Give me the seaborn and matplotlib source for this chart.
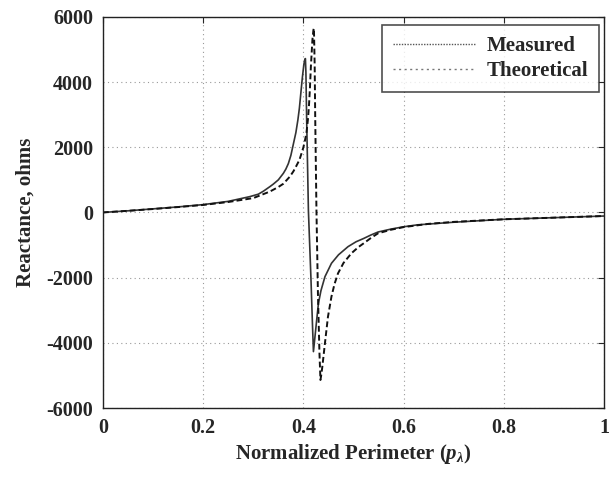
import numpy as np
import pandas as pd
import matplotlib
matplotlib.use("Agg")
import matplotlib.pyplot as plt
from matplotlib.lines import Line2D
import seaborn as sns

# ---- data ----
measured_x = [0.0, 0.05, 0.10, 0.15, 0.20, 0.25, 0.293, 0.31, 0.32, 0.333, 0.34, 0.35,
              0.36, 0.365, 0.37, 0.375, 0.38, 0.385, 0.389, 0.392, 0.3955, 0.398,
              0.401, 0.403, 0.404, 0.405, 0.4065, 0.410, 0.415, 0.418, 0.420, 0.4225,
              0.4265, 0.430, 0.435, 0.443, 0.450, 0.456, 0.470, 0.489, 0.505, 0.520,
              0.535, 0.549, 0.575, 0.600, 0.628, 0.700, 0.800, 0.900, 1.000]
measured_y = [0, 50, 110, 170, 240, 340, 485, 560, 650, 790, 870, 1000,
              1200, 1330, 1500, 1750, 2100, 2450, 2840, 3200, 3760, 4150,
              4550, 4700, 4720, 4300, 2840, 50, -2000, -3400, -4270, -3900,
              -3300, -2790, -2400, -1970, -1750, -1560, -1300, -1050, -900, -800,
              -690, -600, -510, -440, -380, -300, -210, -160, -110]

theory_x = [0.0, 0.05, 0.10, 0.15, 0.20, 0.25, 0.30, 0.333, 0.35, 0.36, 0.373, 0.38,
            0.385, 0.392, 0.396, 0.400, 0.403, 0.406, 0.409, 0.411, 0.413, 0.415,
            0.418, 0.420, 0.421, 0.4225, 0.4235, 0.426, 0.429, 0.432, 0.434, 0.436,
            0.438, 0.443, 0.449, 0.456, 0.462, 0.469, 0.480, 0.496, 0.510, 0.520,
            0.535, 0.549, 0.575, 0.600, 0.650, 0.700, 0.800, 0.900, 1.000]
theory_y = [0, 50, 105, 165, 230, 320, 440, 640, 780, 880, 1100, 1260,
            1400, 1610, 1800, 2000, 2200, 2430, 2850, 3250, 3800, 4500,
            5300, 5600, 5650, 4500, 3000, 100, -2500, -4300, -5140, -4950,
            -4700, -4010, -3200, -2580, -2200, -1870, -1550, -1250, -1060, -950,
            -780, -640, -530, -450, -350, -290, -210, -160, -110]

series_names = ["Measured", "Theoretical"]
x_ticks = [0, 0.2, 0.4, 0.6, 0.8, 1]
x_tick_labels = ["0", "0.2", "0.4", "0.6", "0.8", "1"]
y_ticks = [-6000, -4000, -2000, 0, 2000, 4000, 6000]
y_tick_labels = ["-6000", "-4000", "-2000", "0", "2000", "4000", "6000"]

df = pd.concat([
    pd.DataFrame({"x": measured_x, "y": measured_y, "series": series_names[0]}),
    pd.DataFrame({"x": theory_x, "y": theory_y, "series": series_names[1]}),
], ignore_index=True)

sns.set_style("white")
plt.rcParams["font.family"] = ["Liberation Serif", "DejaVu Serif"]
plt.rcParams["font.weight"] = "bold"
plt.rcParams["mathtext.fontset"] = "custom"
plt.rcParams["mathtext.it"] = "Liberation Serif:italic:bold"
plt.rcParams["mathtext.rm"] = "Liberation Serif:bold"

fig = plt.figure(figsize=(6.09, 4.82), dpi=100)
ax = fig.add_axes([0.169, 0.1535, 0.823, 0.8115])

sns.lineplot(data=df, x="x", y="y", hue="series", style="series",
             palette={"Measured": "#333333", "Theoretical": "#111111"},
             dashes={"Measured": "", "Theoretical": (3.0, 1.6)},
             sort=False, estimator=None, ax=ax, legend=False)
for ln, lw in zip(ax.get_lines(), [1.2, 1.4]):
    ln.set_linewidth(lw)

ax.set_xlim(0, 1)
ax.set_ylim(-6000, 6000)
ax.set_xticks(x_ticks)
ax.set_xticklabels(x_tick_labels, fontsize=14.5, fontweight="bold")
ax.set_yticks(y_ticks)
ax.set_yticklabels(y_tick_labels, fontsize=14.5, fontweight="bold")
ax.tick_params(direction="in", length=4, width=0.8, top=True, right=True, pad=7)
ax.grid(True, linestyle=(0, (1, 3)), color="#999999", linewidth=0.8)
for sp in ax.spines.values():
    sp.set_color("#222222")
    sp.set_linewidth(1.0)

ax.set_xlabel(r"Normalized Perimeter ($p_{\lambda}$)", fontsize=15, fontweight="bold", labelpad=3)
ax.set_ylabel("Reactance, ohms", fontsize=15, fontweight="bold", labelpad=8)

handles = [Line2D([], [], color="#555555", lw=1.0, linestyle=(0, (1, 1))),
           Line2D([], [], color="#777777", lw=1.0, linestyle=(0, (1.5, 2.5)))]
leg = ax.legend(handles, series_names, loc="upper right", bbox_to_anchor=(0.99, 0.98),
                prop={"family": "Liberation Serif", "weight": "bold", "size": 15},
                handlelength=4.0, frameon=True, fancybox=False, borderpad=0.35,
                labelspacing=0.25, handletextpad=0.5, borderaxespad=0.0)
leg.get_frame().set_edgecolor("#222222")
leg.get_frame().set_linewidth(1.2)
# extra left padding inside the legend box, as in the reference
leg._legend_box.align = "right"
leg._legend_box.pad = 8

fig.savefig("out.png", dpi=100)
